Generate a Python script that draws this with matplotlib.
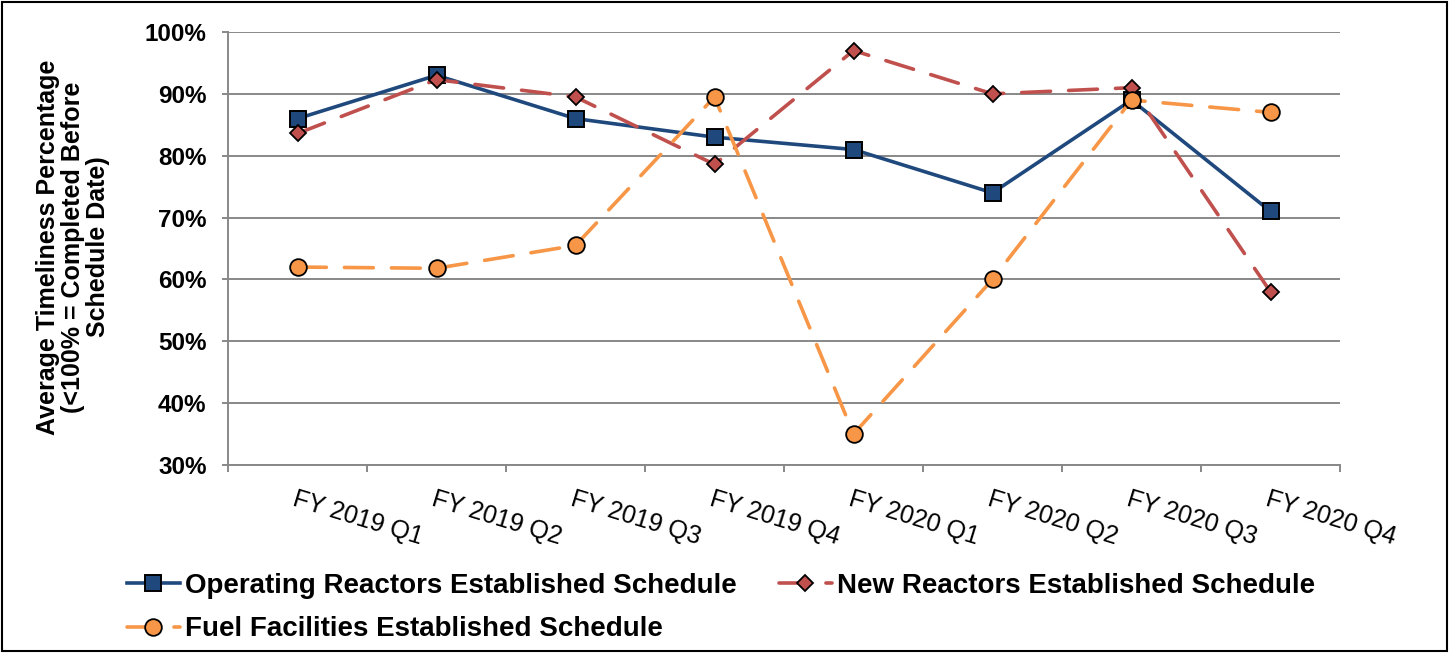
import matplotlib
matplotlib.use("Agg")
import matplotlib.pyplot as plt
from matplotlib.patches import Rectangle
from matplotlib.ticker import FixedLocator, PercentFormatter

plt.rcParams['font.family'] = ['Liberation Sans', 'DejaVu Sans']

categories = ["FY 2019 Q1", "FY 2019 Q2", "FY 2019 Q3", "FY 2019 Q4",
              "FY 2020 Q1", "FY 2020 Q2", "FY 2020 Q3", "FY 2020 Q4"]
operating = [86, 93, 86, 83, 81, 74, 89, 71]
new_reactors = [83.6, 92.3, 89.5, 78.6, 97, 90, 91, 58]
fuel = [62, 61.8, 65.5, 89.5, 35, 60, 89, 87]

names = ["Operating Reactors Established Schedule",
         "New Reactors Established Schedule",
         "Fuel Facilities Established Schedule"]

W, H = 1450, 653
fig = plt.figure(figsize=(W / 100, H / 100), dpi=100)
ax = fig.add_axes([228 / W, 1 - 465 / H, (1340 - 228) / W, (465 - 32) / H])

x = list(range(len(categories)))
grid_c = "#888888"

l1, = ax.plot(x, operating, color="#1F497D", lw=2.6, marker="s", ms=12,
              mfc="#1F497D", mec="black", mew=1.4, zorder=3)
l2, = ax.plot(x, new_reactors, color="#C0504D", lw=2.6, marker="D", ms=8.5,
              mfc="#C0504D", mec="black", mew=1.3, dashes=(8, 5),
              dash_capstyle="round", zorder=3)
l3, = ax.plot(x, fuel, color="#F79646", lw=2.6, marker="o", ms=12,
              mfc="#F79646", mec="black", mew=1.3, dashes=(8, 5),
              dash_capstyle="round", zorder=3)

ax.set_xlim(-0.5, len(categories) - 0.5)
ax.set_ylim(30, 100)
ax.set_yticks(range(30, 101, 10))
ax.yaxis.set_major_formatter(PercentFormatter(decimals=0))
ax.yaxis.grid(True, color=grid_c, lw=1.4)
ax.set_axisbelow(True)

for s in ["top", "right"]:
    ax.spines[s].set_visible(False)
for s in ["left", "bottom"]:
    ax.spines[s].set_color(grid_c)
    ax.spines[s].set_linewidth(1.4)

ax.tick_params(axis="y", length=4.5, width=1.4, color=grid_c, pad=11,
               labelsize=17.5)
for t in ax.get_yticklabels():
    t.set_fontweight("bold")

ax.set_xticks(x)
ax.set_xticklabels(categories, rotation=-17, ha="left", va="top",
                   rotation_mode="anchor", fontsize=18)
ax.tick_params(axis="x", which="major", length=0, pad=16)
ax.xaxis.set_minor_locator(FixedLocator([i - 0.5 for i in range(len(categories) + 1)]))
ax.tick_params(axis="x", which="minor", length=5, width=1.4, color=grid_c)

ax.set_ylabel("Average Timeliness Percentage\n(<100% = Completed Before\nSchedule Date)",
              fontsize=18, fontweight="bold", linespacing=1.05, va="center")
ax.yaxis.set_label_coords((73 - 228) / 1112, (465 - 247) / 433)

fig.legend([l1, l3, l2], [names[0], names[2], names[1]], ncol=2,
           loc="upper left", bbox_to_anchor=(127 / W, 1 - 573 / H),
           frameon=False, prop={"weight": "bold", "size": 20},
           handlelength=1.9, handletextpad=0.2, columnspacing=1.5,
           labelspacing=0.62, borderaxespad=0, borderpad=0)

fig.patches.append(Rectangle((2 / W, 2 / H), 1 - 5 / W, 1 - 4 / H,
                             transform=fig.transFigure, fill=False,
                             edgecolor="black", lw=1.5))

fig.savefig("out.png", dpi=100)
